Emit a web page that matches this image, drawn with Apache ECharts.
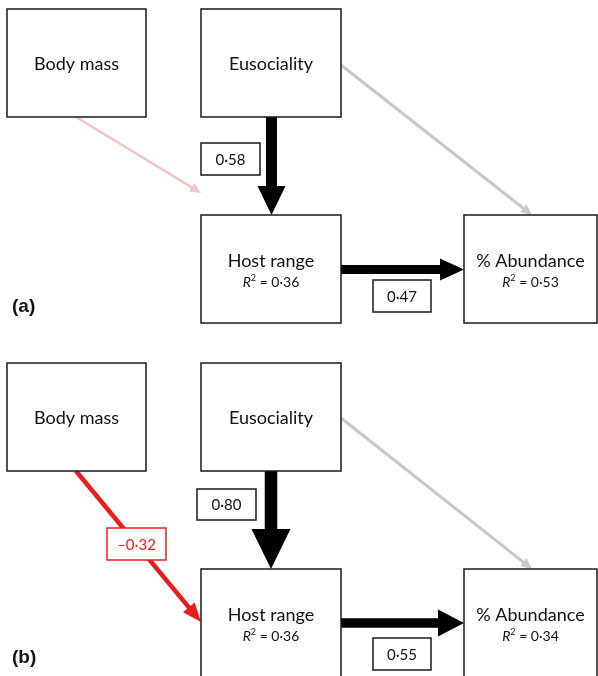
<!DOCTYPE html>
<html>
<head>
<meta charset="utf-8">
<script src="https://cdn.jsdelivr.net/npm/echarts@6/dist/echarts.min.js"></script>
<style>
html,body{margin:0;padding:0;background:#fff;}
#main{width:598px;height:676px;}
</style>
</head>
<body>
<div id="main"></div>
<script>
// path model data
var nodeNames = ['Body mass', 'Eusociality', 'Host range', '% Abundance'];
var panelLabels = ['(a)', '(b)'];
var r2A = ['', '', '0·36', '0·53'];
var r2B = ['', '', '0·36', '0·34'];
var pathFrom = [0, 1, 2, 1];
var pathTo = [2, 2, 3, 3];
var coefA = [null, 0.58, 0.47, null];   // null = not significant
var coefB = [-0.32, 0.80, 0.55, null];

// layout (pixels inside one panel)
var panelTop = [0, 354];
var nodeBox = [[7, 9, 146, 117], [201, 9, 341, 117], [201, 215, 341, 323], [464, 215, 597, 323]];
var edgeGeo = [
	[   // (a)
		{p0: [76, 117], p1: [201, 193], w: 2.5, hl: 11, hw: 10, color: '#f7c2c2'},
		{p0: [271.5, 117], p1: [271.5, 215], w: 11, hl: 29, hw: 28, color: '#000'},
		{p0: [341, 269.5], p1: [464, 269.5], w: 9, hl: 24, hw: 22, color: '#000'},
		{p0: [341, 65], p1: [532, 215], w: 3, hl: 11, hw: 10, color: '#c8c8c8'}
	],
	[   // (b)
		{p0: [76, 117], p1: [201, 268], w: 4.5, hl: 19, hw: 15, color: '#ee1b1b'},
		{p0: [271, 117], p1: [271, 215], w: 12.5, hl: 40, hw: 39, color: '#000'},
		{p0: [341, 269], p1: [464, 269], w: 9.5, hl: 26, hw: 27, color: '#000'},
		{p0: [341, 64], p1: [532, 215], w: 3, hl: 11, hw: 10, color: '#c8c8c8'}
	]
];
var labelBox = [
	[null, [201, 143, 260, 175], [373, 280, 431, 312], null],
	[[107, 174, 166, 206], [197, 135, 256, 166], [373, 284, 431, 316], null]
];

var FONT = 'Lato, "Open Sans", sans-serif';

function fmt(v){
	var s = Math.abs(v).toFixed(2).replace('.', '·');
	return (v < 0 ? '–' : '') + s;
}

function boxSeries(p){
	var r2 = p === 0 ? r2A : r2B;
	var top = panelTop[p];
	return {
		type: 'custom',
		coordinateSystem: 'cartesian2d',
		silent: true,
		data: nodeNames.map(function(n, i){ return [i]; }),
		renderItem: function(params, api){
			var i = api.value(0);
			var b = nodeBox[i];
			var a = api.coord([b[0], b[1] + top]);
			var c = api.coord([b[2], b[3] + top]);
			var cx = (a[0] + c[0]) / 2, cy = (a[1] + c[1]) / 2;
			var kids = [{
				type: 'rect',
				shape: {x: a[0], y: a[1], width: c[0] - a[0], height: c[1] - a[1]},
				style: {fill: '#fff', stroke: '#1a1a1a', lineWidth: 1.5}
			}];
			if (r2[i]) {
				kids.push({type: 'text', x: cx, y: cy - 8,
					style: {text: nodeNames[i], font: '18px ' + FONT, fill: '#111', align: 'center', verticalAlign: 'middle'}});
				kids.push({type: 'text', x: cx, y: cy + 13,
					style: {text: '{i|R}{s|2}{n| = ' + r2[i] + '}', align: 'center', verticalAlign: 'middle',
						rich: {
							i: {font: 'italic 14px ' + FONT, fill: '#111'},
							s: {font: '9px ' + FONT, fill: '#111', verticalAlign: 'top', padding: [0, 0, 7, 0]},
							n: {font: '14px ' + FONT, fill: '#111'}
						}}});
			} else {
				kids.push({type: 'text', x: cx, y: cy + 1,
					style: {text: nodeNames[i], font: '18px ' + FONT, fill: '#111', align: 'center', verticalAlign: 'middle'}});
			}
			return {type: 'group', children: kids};
		},
		z: 3
	};
}

function arrowSeries(p){
	var top = panelTop[p];
	return {
		type: 'custom',
		coordinateSystem: 'cartesian2d',
		silent: true,
		data: pathFrom.map(function(f, i){ return [i]; }),
		renderItem: function(params, api){
			var e = edgeGeo[p][api.value(0)];
			var x0 = e.p0[0], y0 = e.p0[1] + top, x1 = e.p1[0], y1 = e.p1[1] + top;
			var len = Math.sqrt((x1 - x0) * (x1 - x0) + (y1 - y0) * (y1 - y0));
			var dx = (x1 - x0) / len, dy = (y1 - y0) / len;
			var nx = -dy, ny = dx;
			var bx = x1 - dx * e.hl, by = y1 - dy * e.hl;
			var pts = [
				[x0 + nx * e.w / 2, y0 + ny * e.w / 2],
				[bx + nx * e.w / 2, by + ny * e.w / 2],
				[bx + nx * e.hw / 2, by + ny * e.hw / 2],
				[x1, y1],
				[bx - nx * e.hw / 2, by - ny * e.hw / 2],
				[bx - nx * e.w / 2, by - ny * e.w / 2],
				[x0 - nx * e.w / 2, y0 - ny * e.w / 2]
			].map(function(pt){ return api.coord(pt); });
			return {type: 'polygon', shape: {points: pts}, style: {fill: e.color}};
		},
		z: 2
	};
}

function coefSeries(p){
	var coef = p === 0 ? coefA : coefB;
	var top = panelTop[p];
	var idx = [];
	coef.forEach(function(v, i){ if (v !== null) idx.push([i]); });
	return {
		type: 'custom',
		coordinateSystem: 'cartesian2d',
		silent: true,
		data: idx,
		renderItem: function(params, api){
			var i = api.value(0);
			var b = labelBox[p][i];
			var a = api.coord([b[0], b[1] + top]);
			var c = api.coord([b[2], b[3] + top]);
			var col = coef[i] < 0 ? '#ee1b1b' : '#111';
			return {type: 'group', children: [
				{type: 'rect', shape: {x: a[0], y: a[1], width: c[0] - a[0], height: c[1] - a[1]},
					style: {fill: '#fff', stroke: coef[i] < 0 ? '#ee1b1b' : '#1a1a1a', lineWidth: 1.5}},
				{type: 'text', x: (a[0] + c[0]) / 2, y: (a[1] + c[1]) / 2 + 1,
					style: {text: fmt(coef[i]), font: '15px ' + FONT, fill: col, align: 'center', verticalAlign: 'middle'}}
			]};
		},
		z: 4
	};
}

var series = [];
[0, 1].forEach(function(p){
	series.push(arrowSeries(p));
	series.push(boxSeries(p));
	series.push(coefSeries(p));
});

var myChart = echarts.init(document.getElementById('main'));
var option = {
	animation: false,
	backgroundColor: '#fff',
	grid: {left: 0, right: 0, top: 0, bottom: 0},
	xAxis: {type: 'value', min: 0, max: 598, show: false},
	yAxis: {type: 'value', min: 0, max: 676, inverse: true, show: false},
	graphic: panelLabels.map(function(t, p){
		return {type: 'text', left: 12, top: [297, 648][p],
			style: {text: t, font: 'bold 19px "Liberation Sans", Arial, sans-serif', fill: '#111'}};
	}),
	series: series
};
myChart.setOption(option);
window.onresize = myChart.resize;
</script>
</body>
</html>
